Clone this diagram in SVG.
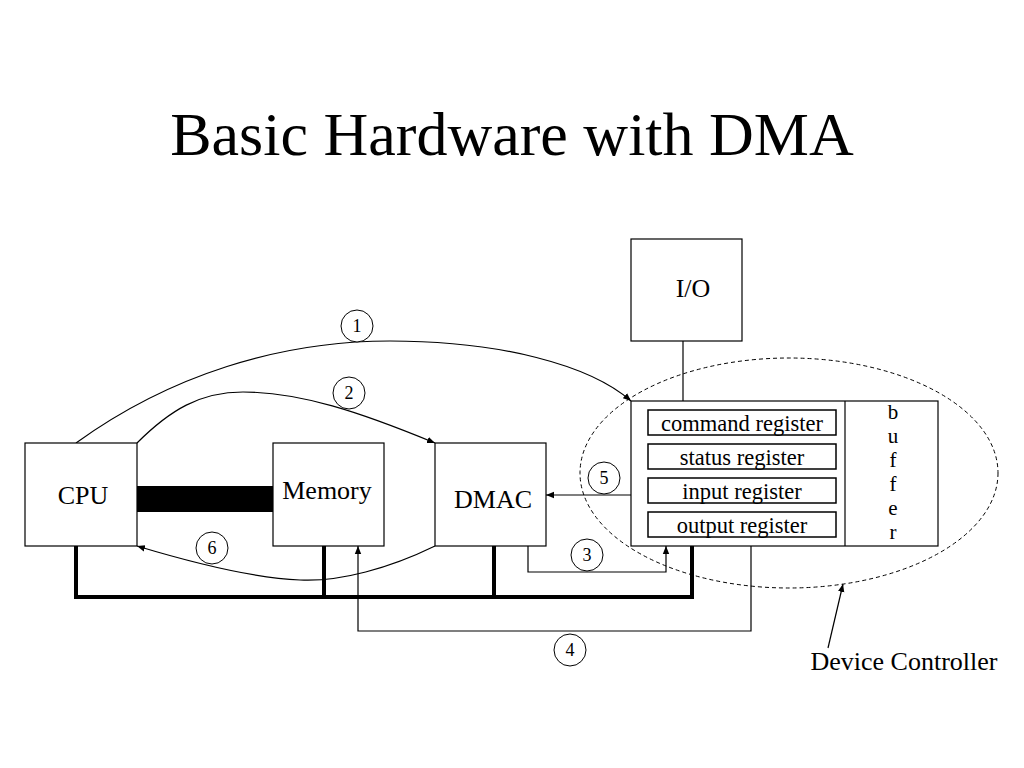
<svg xmlns="http://www.w3.org/2000/svg" width="1024" height="768" viewBox="0 0 1024 768">
<style>
text{font-family:"Liberation Serif","Times New Roman",serif;fill:#000}
.box{fill:#fff;stroke:#000;stroke-width:1.2}
.reg{fill:#fff;stroke:#000;stroke-width:1.5}
.ln{fill:none;stroke:#000;stroke-width:1.2}
.bus{fill:none;stroke:#000;stroke-width:4}
.num{fill:#fff;stroke:#000;stroke-width:1}
</style>
<defs>
<marker id="ah" viewBox="0 0 10 10" refX="10" refY="5" markerWidth="8" markerHeight="8" markerUnits="userSpaceOnUse" orient="auto">
<path d="M0,1 L10,5 L0,9 Z" fill="#000"/>
</marker>
</defs>
<rect width="1024" height="768" fill="#fff"/>
<text x="512" y="155" font-size="62" text-anchor="middle">Basic Hardware with DMA</text>

<g id="connectors">
<path class="bus" d="M76,546 V597 H692 V546 M324,546 V597 M494,546 V597"/>
<rect x="137" y="486" width="136" height="26" fill="#000"/>
<path class="ln" d="M683,341 V401"/>
<path class="ln" d="M76,443 C170,375 280,341 390,341 C500,341 590,365 631,401" marker-end="url(#ah)"/>
<path class="ln" d="M137,443 C170,410 200,392 243,392 C300,392 360,412 435,443" marker-end="url(#ah)"/>
<path class="ln" d="M435,546 C390,568 340,582 300,580 C250,578 190,562 137,546" marker-end="url(#ah)"/>
<path class="ln" d="M631,495 H546" marker-end="url(#ah)"/>
<path class="ln" d="M528,546 V572 H666 V546" marker-end="url(#ah)"/>
<path class="ln" d="M751,546 V631 H358 V546" marker-end="url(#ah)"/>
<path class="ln" d="M828,648 L843,584" marker-end="url(#ah)"/>
</g>

<g id="cpu"><rect class="box" x="25" y="443" width="112" height="103"/><text x="83" y="504" font-size="26" text-anchor="middle">CPU</text></g>
<g id="memory"><rect class="box" x="273" y="443" width="111" height="103"/><text x="327" y="499" font-size="26" text-anchor="middle">Memory</text></g>
<g id="dmac"><rect class="box" x="435" y="443" width="111" height="103"/><text x="493" y="508" font-size="26" text-anchor="middle">DMAC</text></g>
<g id="io"><rect class="box" x="631" y="239" width="111" height="102"/><text x="693" y="297" font-size="26" text-anchor="middle">I/O</text></g>

<g id="controller">
<rect class="box" x="631" y="401" width="307" height="145"/>
<line class="ln" x1="845" y1="401" x2="845" y2="546"/>
<rect class="reg" x="648" y="410" width="188" height="25"/><text x="742" y="431" font-size="22.5" text-anchor="middle">command register</text>
<rect class="reg" x="648" y="444" width="188" height="25"/><text x="742" y="465" font-size="22.5" text-anchor="middle">status register</text>
<rect class="reg" x="648" y="478" width="188" height="25"/><text x="742" y="499" font-size="22.5" text-anchor="middle">input register</text>
<rect class="reg" x="648" y="512" width="188" height="25"/><text x="742" y="533" font-size="22.5" text-anchor="middle">output register</text>
<g font-size="21" text-anchor="middle">
<text x="893" y="419">b</text><text x="893" y="443">u</text><text x="893" y="467">f</text><text x="893" y="491">f</text><text x="893" y="515">e</text><text x="893" y="539">r</text>
</g>
</g>

<g id="device-controller">
<ellipse cx="789" cy="473" rx="209" ry="115" fill="none" stroke="#000" stroke-width="1" stroke-dasharray="4,3"/>
<text x="904" y="670" font-size="26" text-anchor="middle">Device Controller</text>
</g>

<g id="labels" font-size="18" text-anchor="middle">
<g id="n1"><circle class="num" cx="357" cy="326" r="16"/><text x="357" y="332">1</text></g>
<g id="n2"><circle class="num" cx="349" cy="393" r="16"/><text x="349" y="399">2</text></g>
<g id="n3"><circle class="num" cx="587" cy="555" r="16"/><text x="587" y="561">3</text></g>
<g id="n4"><circle class="num" cx="570" cy="650" r="16"/><text x="570" y="656">4</text></g>
<g id="n5"><circle class="num" cx="604" cy="478" r="16"/><text x="604" y="484">5</text></g>
<g id="n6"><circle class="num" cx="212" cy="548" r="16"/><text x="212" y="554">6</text></g>
</g>
</svg>
